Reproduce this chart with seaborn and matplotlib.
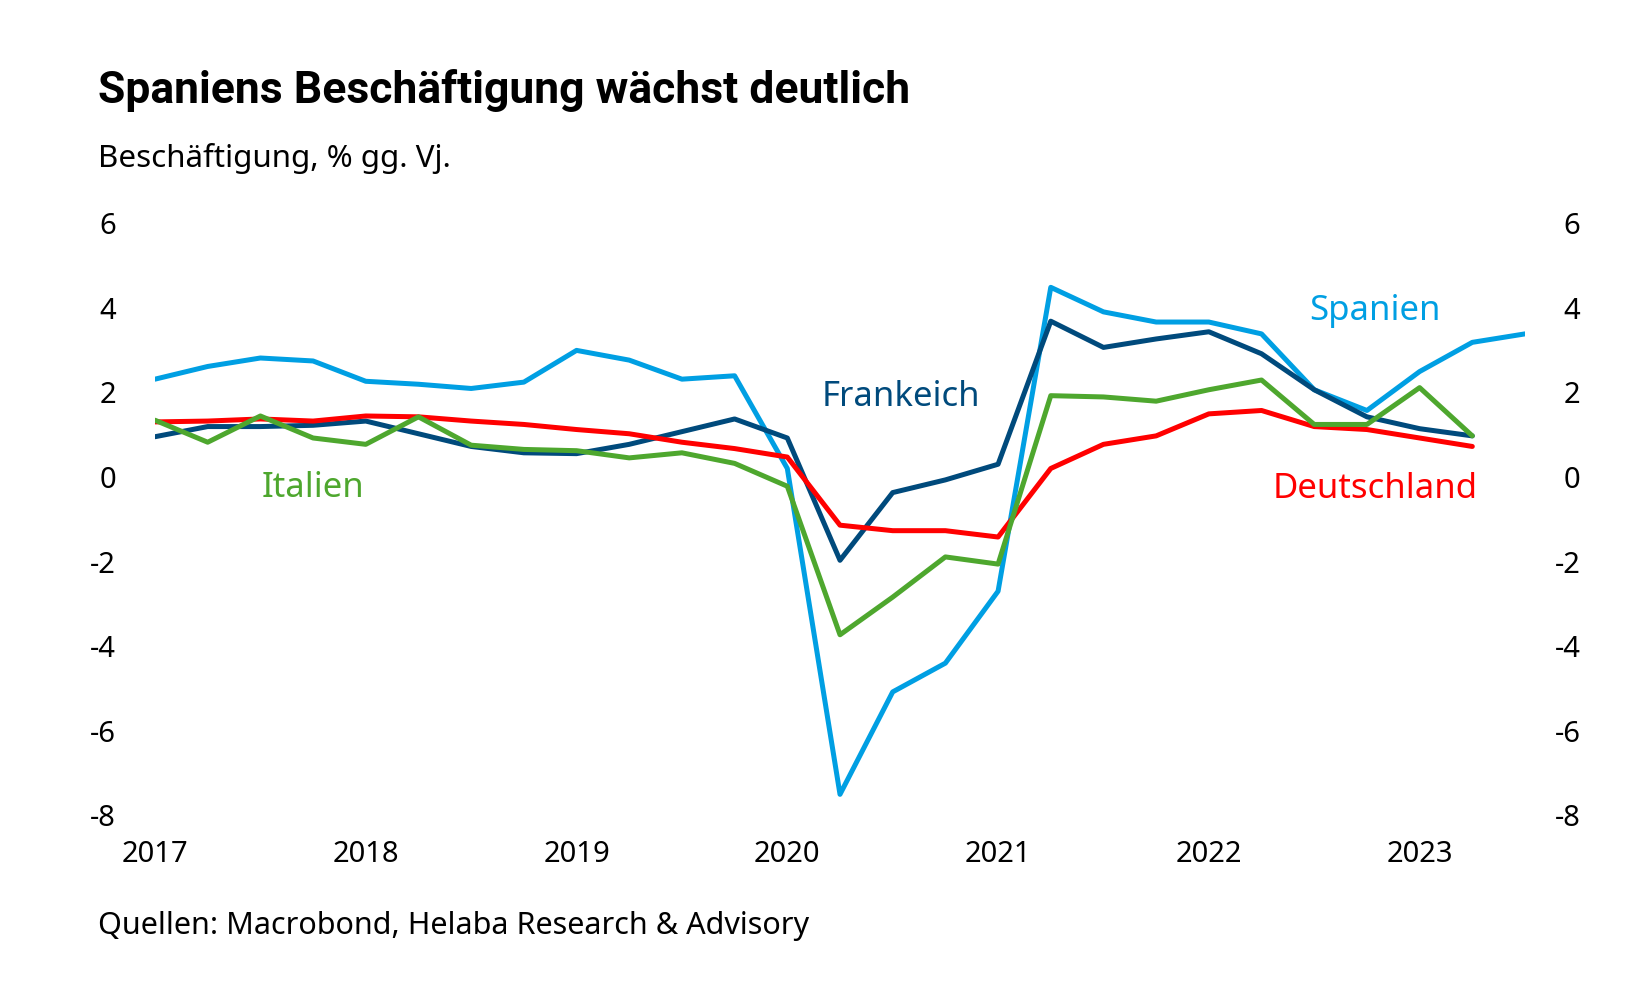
import pandas as pd
import numpy as np
import matplotlib
matplotlib.use("Agg")
import matplotlib.pyplot as plt
import matplotlib.transforms as mtransforms
import seaborn as sns

# ── Data (Beschäftigung, % gg. Vj., quarterly) ─────────────
quarters = pd.period_range("2017Q1", "2023Q3", freq="Q")

spanien = [2.31, 2.61, 2.81, 2.74, 2.26, 2.19, 2.09, 2.24, 2.99, 2.76, 2.31, 2.39,
           0.2, -7.5, -5.08, -4.4, -2.7, 4.48, 3.9, 3.66, 3.66, 3.38, 2.06, 1.57,
           2.49, 3.18, 3.38]
frankreich = [0.95, 1.19, 1.19, 1.22, 1.32, 1.02, 0.72, 0.57, 0.55, 0.77, 1.07, 1.37,
              0.92, -1.97, -0.37, -0.07, 0.3, 3.68, 3.06, 3.26, 3.43, 2.91, 2.06, 1.42,
              1.14, 0.97]
deutschland = [1.3, 1.32, 1.37, 1.32, 1.44, 1.42, 1.32, 1.24, 1.12, 1.02, 0.82, 0.67,
               0.47, -1.14, -1.27, -1.27, -1.42, 0.2, 0.77, 0.97, 1.49, 1.57, 1.19, 1.12,
               0.92, 0.72]
italien = [1.34, 0.82, 1.44, 0.92, 0.77, 1.42, 0.75, 0.65, 0.62, 0.45, 0.57, 0.32,
           -0.22, -3.73, -2.84, -1.89, -2.06, 1.92, 1.89, 1.79, 2.06, 2.29, 1.24, 1.24,
           2.11, 0.97]

series = {"Spanien": spanien, "Frankeich": frankreich,
          "Deutschland": deutschland, "Italien": italien}
colors = {"Spanien": "#009fe3", "Frankeich": "#004a7c",
          "Deutschland": "#ff0000", "Italien": "#4ea72e"}

# decimal year position of each quarter
xpos = quarters.year + (quarters.quarter - 1) / 4

rows = []
for name, vals in series.items():
    for x, v in zip(xpos[:len(vals)], vals):
        rows.append({"Jahr": x, "Wert": v, "Land": name})
df = pd.DataFrame(rows)

# ── Plot ───────────────────────────────────────────────────
sns.set_theme(style="white")
plt.rcParams["font.family"] = ["Noto Sans", "DejaVu Sans"]
plt.rcParams["axes.unicode_minus"] = False
plt.rcParams["text.color"] = "black"
plt.rcParams["xtick.color"] = "black"
plt.rcParams["ytick.color"] = "black"

fig = plt.figure(figsize=(16.5, 10), dpi=100)
ax = fig.add_axes([155 / 1650, 1 - 815.5 / 1000, 1370 / 1650, 592.5 / 1000])

sns.lineplot(data=df, x="Jahr", y="Wert", hue="Land", palette=colors,
             linewidth=3.6, legend=False, ax=ax)

ax.set_xlim(2017, 2023.5)
ax.set_ylim(-8, 6)
ax.set_xticks(range(2017, 2024))
ax.set_xticklabels([str(y) for y in range(2017, 2024)])
ax.set_yticks(range(-8, 7, 2))
ax.set_xlabel("")
ax.set_ylabel("")
for s in ax.spines.values():
    s.set_visible(False)
ax.tick_params(axis="x", length=0, pad=18, labelsize=21)
ax.tick_params(axis="y", length=0, labelsize=21, pad=28,
               left=True, right=True, labelleft=True, labelright=True)

# right labels right-aligned, a bit further out
offset = mtransforms.ScaledTranslation(12 / 72, 0, fig.dpi_scale_trans)
for t in ax.yaxis.get_major_ticks():
    t.label2.set_horizontalalignment("right")
    t.label2.set_transform(t.label2.get_transform() + offset)

# series labels
lab_size = 25
ax.text(2022.79, 3.92, "Spanien", color=colors["Spanien"], fontsize=lab_size,
        ha="center", va="center")
ax.text(2020.54, 1.89, "Frankeich", color=colors["Frankeich"], fontsize=lab_size,
        ha="center", va="center")
ax.text(2017.75, -0.26, "Italien", color=colors["Italien"], fontsize=lab_size,
        ha="center", va="center")
ax.text(2022.79, -0.28, "Deutschland", color=colors["Deutschland"], fontsize=lab_size,
        ha="center", va="center")

fig.text(98 / 1650, 1 - 90 / 1000, "Spaniens Beschäftigung wächst deutlich",
         fontsize=32, fontweight="bold", family=["Roboto", "DejaVu Sans"],
         ha="left", va="center")
fig.text(98 / 1650, 1 - 158 / 1000, "Beschäftigung, % gg. Vj.",
         fontsize=22.5, ha="left", va="center")
fig.text(98 / 1650, 1 - 926 / 1000, "Quellen: Macrobond, Helaba Research & Advisory",
         fontsize=22, ha="left", va="center")

plt.savefig("out.png", dpi=100)
plt.close()
